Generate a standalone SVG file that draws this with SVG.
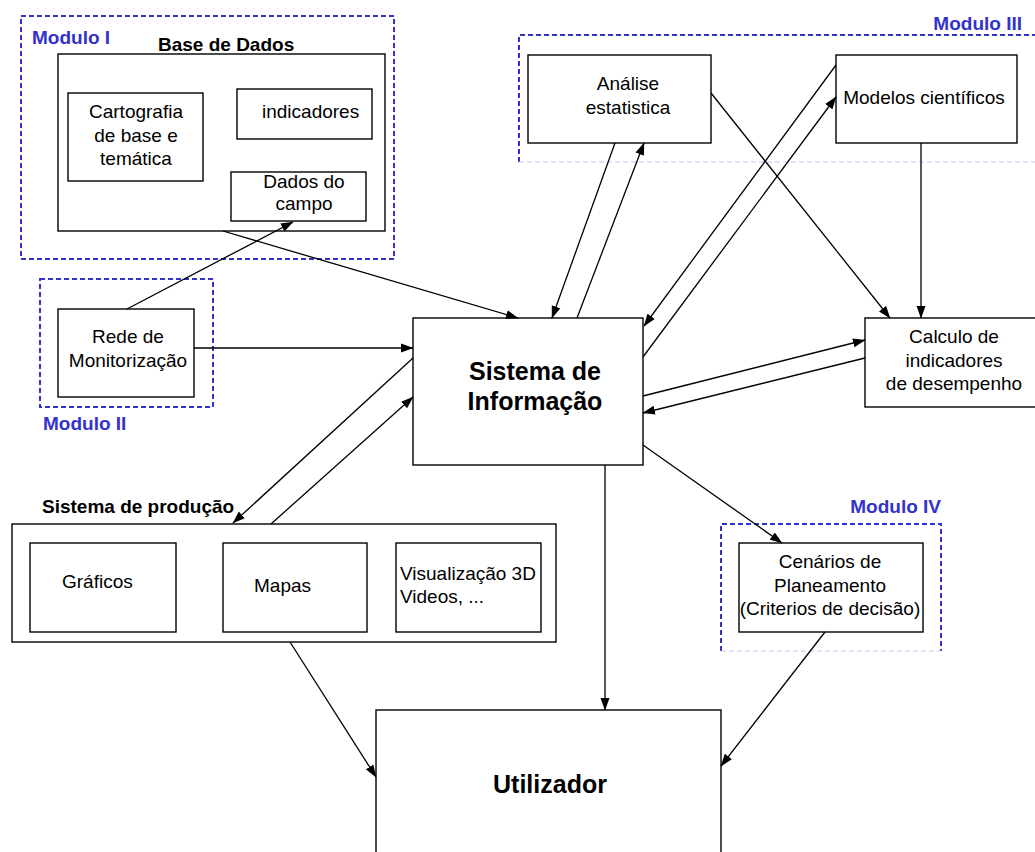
<svg xmlns="http://www.w3.org/2000/svg" width="1035" height="852" viewBox="0 0 1035 852">
<defs>
<marker id="arr" markerUnits="userSpaceOnUse" markerWidth="13" markerHeight="10" refX="12" refY="5" orient="auto">
<path d="M0,0.5 L12.5,5 L0,9.5 z" fill="#000"/>
</marker>
<style>
.box{fill:#fff;stroke:#000;stroke-width:1.4}
.mod{fill:none;stroke:#3333cc;stroke-width:2;stroke-dasharray:5 3}
.fade{fill:none;stroke:#c8c8f0;stroke-width:1.2;stroke-dasharray:5 3}
.t{font-family:"Liberation Sans",Arial,sans-serif;font-size:19px;fill:#000}
.c{text-anchor:middle}
.b{font-family:"Liberation Sans",Arial,sans-serif;font-weight:bold;font-size:19px;fill:#000}
.big{font-family:"Liberation Sans",Arial,sans-serif;font-weight:bold;font-size:25px;fill:#000;text-anchor:middle}
.ml{font-family:"Liberation Sans",Arial,sans-serif;font-weight:bold;font-size:19px;fill:#3333cc}
.ln{fill:none;stroke:#000;stroke-width:1.3;marker-end:url(#arr)}
</style>
</defs>
<rect width="1035" height="852" fill="#fff"/>

<g id="modulo1">
<rect class="mod" x="21" y="16" width="373" height="243"/>
<text class="ml" x="32" y="44">Modulo I</text>
</g>
<g id="base-de-dados">
<text class="b" x="158" y="51">Base de Dados</text>
<rect class="box" x="58" y="54" width="327" height="177"/>
</g>
<g id="cartografia">
<rect class="box" x="68" y="93" width="135" height="88"/>
<text class="t c" x="136" y="118">Cartografia</text>
<text class="t c" x="136" y="142">de base e</text>
<text class="t c" x="136" y="165">temática</text>
</g>
<g id="indicadores">
<rect class="box" x="237" y="89" width="135" height="50"/>
<text class="t" x="262" y="118">indicadores</text>
</g>
<g id="dados-campo">
<rect class="box" x="231" y="172" width="135" height="49"/>
<text class="t c" x="304" y="188">Dados do</text>
<text class="t c" x="304" y="210">campo</text>
</g>

<g id="modulo2">
<rect class="mod" x="40" y="279" width="173" height="128"/>
<text class="ml" x="43" y="430">Modulo II</text>
</g>
<g id="rede">
<rect class="box" x="58" y="309" width="136" height="88"/>
<text class="t c" x="128" y="343">Rede de</text>
<text class="t c" x="128" y="367">Monitorização</text>
</g>

<g id="modulo3">
<path class="mod" d="M519,162 V35 H1040"/>
<path class="fade" d="M519,162 H1040"/>
<text class="ml" x="1022" y="30" text-anchor="end">Modulo III</text>
</g>
<g id="analise">
<rect class="box" x="528" y="55" width="183" height="88"/>
<text class="t c" x="628" y="90">Análise</text>
<text class="t c" x="628" y="114">estatistica</text>
</g>
<g id="modelos">
<rect class="box" x="836" y="55" width="181" height="88"/>
<text class="t c" x="924" y="104">Modelos científicos</text>
</g>

<g id="sistema-informacao">
<rect class="box" x="413" y="318" width="230" height="147"/>
<text class="big" x="535" y="380">Sistema de</text>
<text class="big" x="535" y="410">Informação</text>
</g>
<g id="calculo">
<rect class="box" x="865" y="318" width="180" height="89"/>
<text class="t c" x="954" y="343">Calculo de</text>
<text class="t c" x="954" y="367">indicadores</text>
<text class="t c" x="954" y="390">de desempenho</text>
</g>

<g id="sistema-producao">
<text class="b" x="42" y="513">Sistema de produção</text>
<rect class="box" x="12" y="524" width="544" height="118"/>
</g>
<g id="graficos">
<rect class="box" x="30" y="543" width="146" height="89"/>
<text class="t" x="62" y="588">Gráficos</text>
</g>
<g id="mapas">
<rect class="box" x="223" y="543" width="144" height="89"/>
<text class="t" x="254" y="592">Mapas</text>
</g>
<g id="visualizacao">
<rect class="box" x="396" y="543" width="145" height="89"/>
<text class="t" x="400" y="580">Visualização 3D</text>
<text class="t" x="400" y="603">Videos, ...</text>
</g>

<g id="modulo4">
<path class="mod" d="M721,651 V524 H941 V651"/>
<path class="fade" d="M721,651 H941"/>
<text class="ml" x="941" y="513" text-anchor="end">Modulo IV</text>
</g>
<g id="cenarios">
<rect class="box" x="739" y="543" width="184" height="89"/>
<text class="t c" x="830" y="568">Cenários de</text>
<text class="t c" x="830" y="592">Planeamento</text>
<text class="t c" x="830" y="615">(Criterios de decisão)</text>
</g>

<g id="utilizador">
<rect class="box" x="376" y="710" width="345" height="160"/>
<text class="big" x="550" y="793">Utilizador</text>
</g>

<g id="connectors">
<line class="ln" x1="223" y1="231" x2="518" y2="318"/>
<line class="ln" x1="127" y1="309" x2="293" y2="222"/>
<line class="ln" x1="194" y1="348" x2="413" y2="348"/>
<line class="ln" x1="413" y1="358" x2="233" y2="523"/>
<line class="ln" x1="271" y1="524" x2="413" y2="397"/>
<line class="ln" x1="615" y1="143" x2="552" y2="318"/>
<line class="ln" x1="577" y1="318" x2="644" y2="143"/>
<line class="ln" x1="711" y1="93" x2="890" y2="318"/>
<line class="ln" x1="836" y1="65" x2="644" y2="326"/>
<line class="ln" x1="643" y1="357" x2="836" y2="97"/>
<line class="ln" x1="921" y1="143" x2="921" y2="318"/>
<line class="ln" x1="643" y1="396" x2="865" y2="340"/>
<line class="ln" x1="865" y1="358" x2="643" y2="413"/>
<line class="ln" x1="643" y1="445" x2="782" y2="543"/>
<line class="ln" x1="605" y1="465" x2="605" y2="710"/>
<line class="ln" x1="290" y1="642" x2="376" y2="777"/>
<line class="ln" x1="825" y1="632" x2="721" y2="766"/>
</g>
</svg>
